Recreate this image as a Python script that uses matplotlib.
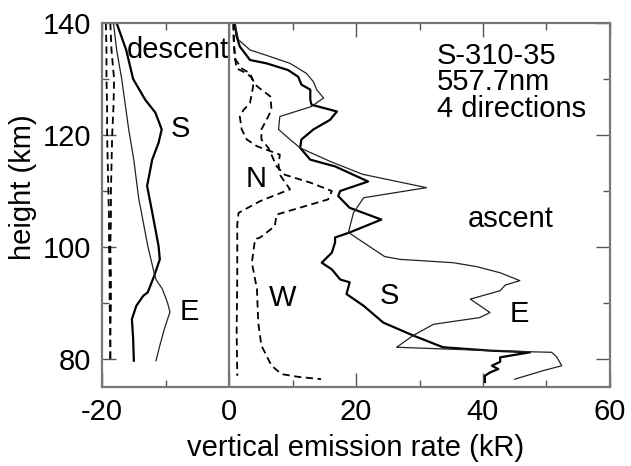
import numpy as np
import matplotlib
matplotlib.use("Agg")
import matplotlib.pyplot as plt
from matplotlib.ticker import MultipleLocator

plt.rcParams['font.family'] = ['Liberation Sans', 'DejaVu Sans']
plt.rcParams['axes.unicode_minus'] = False

# descent profiles are drawn shifted left by 20 kR
DESC_OFFSET = -20.0

# ---- descent (kR, before offset) ----
desc_S_h = [140, 135.2, 130, 126.3, 124, 121, 118.6, 115.6, 110.9, 106.2, 100.2,
            97.8, 94.8, 91.9, 91.3, 89.5, 87.1, 83.6, 80, 79.7]
desc_S_x = [2.3, 3.8, 4.9, 6.8, 8.4, 9.4, 8.9, 7.9, 7.1, 7.9, 8.9,
            9.1, 8.2, 7.2, 6.5, 5.4, 4.7, 4.9, 5.0, 5.0]

desc_E_h = [140, 135.2, 130, 121, 115.6, 112, 108.5, 106.2, 100.2, 95.4, 94.2,
            92.5, 90.1, 88.4, 85.3, 82.4, 79.7]
desc_E_x = [1.8, 2.3, 3.1, 4.2, 5.0, 5.4, 5.8, 6.2, 7.2, 8.2, 8.5,
            9.5, 10.3, 10.7, 9.8, 9.1, 8.5]

desc_N_h = [140, 135, 130, 125, 120, 115, 110, 105, 100, 95, 90, 85, 80, 79.5]
desc_N_x = [0.6, 0.7, 0.7, 0.8, 0.8, 0.9, 1.0, 1.1, 1.1, 1.2, 1.2, 1.3, 1.3, 1.3]

desc_W_h = [140, 135, 130, 125, 120, 115, 110, 105, 100, 95, 90, 85, 80, 79.5]
desc_W_x = [1.3, 1.5, 1.9, 1.8, 1.6, 1.5, 1.4, 1.4, 1.3, 1.4, 1.4, 1.3, 1.3, 1.2]

# ---- ascent (kR) ----
asc_S_h = [140, 137.6, 135.8, 133.4, 132.8, 131.6, 130.4, 129.0, 128.1, 126.3,
           125.4, 124.2, 122.7, 121.0, 119.2, 117.7, 115.6, 114.4, 111.7, 110.0,
           109.1, 107.0, 104.9, 102.6, 101.7, 100.8, 99.0, 97.2, 96.0, 94.2,
           93.7, 91.6, 89.5, 86.5, 84.2, 82.1, 81.5, 81.2, 80.3, 79.5,
           78.8, 78.2, 77.6, 77.0, 75.9]
asc_S_x = [0.9, 1.2, 1.7, 3.3, 5.9, 9.3, 10.9, 11.4, 12.8, 12.8,
           13.0, 17.0, 15.9, 13.3, 11.4, 11.2, 12.8, 16.7, 21.9, 17.5,
           17.2, 19.0, 24.0, 19.0, 16.7, 16.7, 16.2, 14.6, 16.2, 17.5,
           19.0, 18.5, 21.2, 24.3, 29.0, 33.7, 41.1, 47.4, 42.7, 42.7,
           41.4, 42.4, 41.1, 40.3, 40.3]

asc_E_h = [140, 137.0, 135.2, 134.0, 132.8, 131.0, 129.5, 128.1, 126.6, 126.0,
           125.1, 123.3, 121.0, 119.5, 117.7, 115.3, 113.0, 110.6, 108.8, 106.1,
           102.6, 98.3, 97.8, 97.2, 96.5, 95.4, 94.0, 93.2, 92.2, 90.7,
           88.3, 87.4, 86.2, 84.2, 82.1, 81.8, 81.5, 81.3, 81.2, 80.4,
           78.8, 77.9, 76.4]
asc_E_x = [0.9, 1.5, 3.3, 6.5, 9.6, 12.2, 13.3, 13.8, 14.9, 14.1,
           13.0, 8.0, 7.8, 9.3, 11.2, 15.9, 21.0, 31.1, 21.2, 19.6,
           18.8, 24.5, 26.9, 35.3, 39.0, 42.7, 45.8, 43.5, 42.7, 38.0,
           41.1, 39.5, 32.2, 29.0, 26.4, 33.7, 41.1, 47.0, 50.8, 51.6,
           52.4, 49.4, 45.0]

asc_N_h = [140, 137.6, 134, 131.9, 131, 130.2, 128.7, 125.7, 124.5, 123.3,
           121, 119.2, 118, 116.5, 114.7, 112.9, 110.3, 108.2, 106.1, 104,
           95, 85, 77]
asc_N_x = [0.7, 0.7, 0.9, 1.2, 2.8, 3.6, 3.8, 3.3, 2.3, 1.7,
           2.0, 2.8, 4.4, 8.0, 7.8, 8.0, 9.6, 4.9, 1.5, 1.3,
           1.3, 1.2, 1.3]

asc_W_h = [140, 136, 133.5, 131.9, 131, 129, 128.1, 126.9, 124.5, 122.7,
           121, 119.2, 117.7, 114.4, 112.9, 111.5, 110, 108.5, 105.8, 103.7,
           101.7, 101.4, 97.2, 92.5, 86.5, 82.4, 78.8, 77.3, 76.8, 76.4]
asc_W_x = [0.7, 0.8, 1.0, 2.0, 3.3, 4.1, 5.1, 6.5, 6.7, 5.9,
           5.1, 5.1, 6.2, 7.5, 8.8, 12.8, 16.2, 15.6, 7.5, 7.2,
           4.9, 4.1, 3.6, 4.4, 4.6, 5.1, 6.7, 8.3, 11.0, 14.5]

fig = plt.figure(figsize=(6.31, 4.66), dpi=100)
ax = fig.add_axes([0.1617, 0.1695, 0.8050, 0.7811])

thick = dict(color='black', lw=1.6)
thin = dict(color='#222222', lw=0.9)
dash = dict(color='black', lw=1.3, dashes=(4, 2.5))

# descent
ax.plot(np.array(desc_S_x) + DESC_OFFSET, desc_S_h, **thick)
ax.plot(np.array(desc_E_x) + DESC_OFFSET, desc_E_h, **thin)
ax.plot(np.array(desc_N_x) + DESC_OFFSET, desc_N_h, **dash)
ax.plot(np.array(desc_W_x) + DESC_OFFSET, desc_W_h, **dash)

# ascent
ax.plot(asc_S_x, asc_S_h, **thick)
ax.plot(asc_E_x, asc_E_h, **thin)
ax.plot(asc_N_x, asc_N_h, **dash)
ax.plot(asc_W_x, asc_W_h, **dash)

ax.axvline(0, color='#777777', lw=1.6)

ax.set_xlim(-20, 60)
ax.set_ylim(75, 140)

fs = 21
ax.xaxis.set_major_locator(MultipleLocator(20))
ax.xaxis.set_minor_locator(MultipleLocator(10))
ax.yaxis.set_major_locator(MultipleLocator(20))
ax.yaxis.set_minor_locator(MultipleLocator(10))
ax.tick_params(which='both', direction='in', top=True, right=True,
               color='#555555', width=1.0, labelsize=fs, pad=8)
ax.tick_params(which='major', length=10)
ax.tick_params(which='minor', length=5)
for sp in ax.spines.values():
    sp.set_color('#777777')
    sp.set_linewidth(1.6)

ax.set_xlabel('vertical emission rate (kR)', fontsize=fs, labelpad=6)
ax.set_ylabel('height (km)', fontsize=fs)
ax.yaxis.set_label_coords(-0.128, 0.55)

ax.text(-8.0, 135.2, 'descent', fontsize=fs, ha='center', va='center')
ax.text(-7.6, 121.1, 'S', fontsize=fs, ha='center', va='center')
ax.text(-6.3, 88.4, 'E', fontsize=fs, ha='center', va='center')
ax.text(4.3, 112.2, 'N', fontsize=fs, ha='center', va='center')
ax.text(8.4, 90.9, 'W', fontsize=fs, ha='center', va='center')
ax.text(25.2, 91.3, 'S', fontsize=fs, ha='center', va='center')
ax.text(45.8, 88.0, 'E', fontsize=fs, ha='center', va='center')
ax.text(44.4, 105.0, 'ascent', fontsize=fs, ha='center', va='center')
ax.text(32.7, 136.7, 'S-310-35\n557.7nm\n4 directions', fontsize=fs,
        ha='left', va='top', linespacing=0.95)

fig.savefig('out.png', dpi=100)
